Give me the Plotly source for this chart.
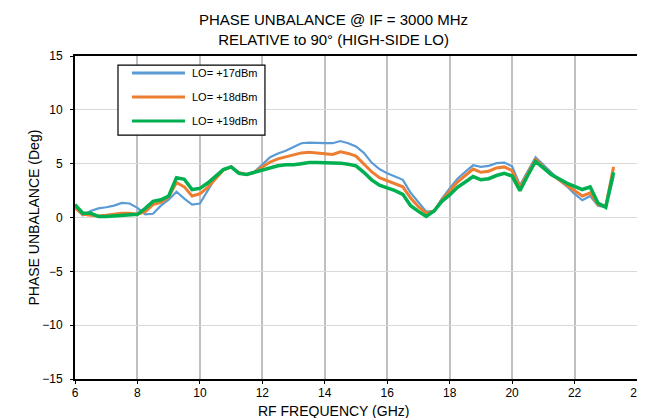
import plotly.graph_objects as go

freq = [6.0, 6.25, 6.5, 6.75, 7.0, 7.25, 7.5, 7.75, 8.0, 8.25, 8.5, 8.75, 9.0, 9.25, 9.5, 9.75,
        10.0, 10.25, 10.5, 10.75, 11.0, 11.25, 11.5, 11.75, 12.0, 12.25, 12.5, 12.75, 13.0, 13.25,
        13.5, 13.75, 14.0, 14.25, 14.5, 14.75, 15.0, 15.25, 15.5, 15.75, 16.0, 16.25, 16.5, 16.75,
        17.0, 17.25, 17.5, 17.75, 18.0, 18.25, 18.5, 18.75, 19.0, 19.25, 19.5, 19.75, 20.0, 20.25,
        20.5, 20.75, 21.0, 21.25, 21.5, 21.75, 22.0, 22.25, 22.5, 22.75, 23.0, 23.25]

lo17 = [0.9, 0.2, 0.6, 0.85, 0.95, 1.1, 1.35, 1.3, 0.9, 0.3, 0.35, 1.1, 1.65, 2.4, 1.75, 1.2,
        1.3, 2.5, 3.7, 4.45, 4.75, 4.2, 4.0, 4.25, 4.9, 5.6, 5.95, 6.2, 6.55, 6.9,
        6.95, 6.9, 6.9, 6.9, 7.1, 6.9, 6.6, 6.0, 5.1, 4.5, 4.1, 3.8, 3.5, 2.3,
        1.4, 0.55, 0.6, 1.75, 2.7, 3.6, 4.25, 4.85, 4.7, 4.8, 5.05, 5.1, 4.75, 3.0,
        4.3, 5.6, 4.9, 4.2, 3.5, 2.9, 2.2, 1.6, 2.0, 1.1, 0.95, 3.8]

lo18 = [0.9, 0.3, 0.2, 0.15, 0.2, 0.3, 0.4, 0.4, 0.3, 0.55, 1.2, 1.4, 1.9, 3.25, 2.85, 2.0,
        2.2, 2.8, 3.6, 4.4, 4.7, 4.15, 4.0, 4.2, 4.7, 5.15, 5.45, 5.65, 5.85, 6.0,
        6.05, 6.0, 5.95, 5.85, 6.1, 5.95, 5.7, 5.0, 4.25, 3.7, 3.4, 3.1, 2.85, 1.8,
        1.0, 0.38, 0.6, 1.6, 2.4, 3.3, 3.9, 4.5, 4.2, 4.3, 4.6, 4.7, 4.35, 2.8,
        4.1, 5.4, 4.7, 4.0, 3.5, 3.0, 2.5, 2.0, 2.3, 1.2, 1.05, 4.7]

lo19 = [1.2, 0.4, 0.4, 0.1, 0.1, 0.15, 0.2, 0.25, 0.3, 0.85, 1.5, 1.65, 2.0, 3.7, 3.55, 2.6,
        2.7, 3.2, 3.8, 4.45, 4.7, 4.1, 4.0, 4.2, 4.45, 4.65, 4.8, 4.9, 4.9, 5.0,
        5.1, 5.1, 5.1, 5.05, 5.05, 4.95, 4.8, 4.2, 3.5, 3.0, 2.75, 2.5, 2.15, 1.1,
        0.57, 0.1, 0.6, 1.5, 2.1, 2.8, 3.3, 3.8, 3.5, 3.6, 3.9, 4.1, 3.85, 2.5,
        3.9, 5.2, 4.6, 4.0, 3.6, 3.2, 2.9, 2.6, 2.85, 1.35, 0.95, 4.2]

series_names = ["LO= +17dBm", "LO= +18dBm", "LO= +19dBm"]
x_ticks = [6, 8, 10, 12, 14, 16, 18, 20, 22, 24]
y_ticks = [-15, -10, -5, 0, 5, 10, 15]

colors = ["#5B9BD5", "#ED7D31", "#00B050"]
widths = [2.2, 3, 3.5]

fig = go.Figure()
for i, (name, vals) in enumerate(zip(series_names, [lo17, lo18, lo19])):
    fig.add_trace(go.Scatter(x=freq, y=vals, mode="lines", name=name,
                             showlegend=False,
                             line=dict(color=colors[i], width=widths[i])))

font_family = "Liberation Sans, Arial, sans-serif"

# manual legend box (paper coordinates)
shapes = [dict(type="rect", xref="paper", yref="paper", x0=0.0765, x1=0.338,
               y0=0.755, y1=0.972, line=dict(color="black", width=1.2),
               fillcolor="white", layer="above")]
annotations = []
row_y = [0.947, 0.873, 0.799]
for i, name in enumerate(series_names):
    shapes.append(dict(type="line", xref="paper", yref="paper", x0=0.1014, x1=0.1957,
                       y0=row_y[i], y1=row_y[i], line=dict(color=colors[i], width=3),
                       layer="above"))
    annotations.append(dict(text=name, xref="paper", yref="paper", x=0.2046, y=row_y[i],
                            xanchor="left", yanchor="middle", showarrow=False,
                            font=dict(size=11, family=font_family)))

annotations += [
    dict(text="PHASE UNBALANCE @ IF = 3000 MHz<br>RELATIVE to 90° (HIGH-SIDE LO)",
         xref="paper", yref="paper", x=0.46, y=1.0, yshift=6,
         xanchor="center", yanchor="bottom", showarrow=False,
         font=dict(size=15, family=font_family)),
    dict(text="RF FREQUENCY (GHz)", xref="paper", yref="paper",
         x=0.46, y=0, yshift=-22, xanchor="center", yanchor="top",
         showarrow=False, font=dict(size=14, family=font_family)),
    dict(text="PHASE UNBALANCE (Deg)", xref="paper", yref="paper",
         x=0, xshift=-42, y=0.5, xanchor="center", yanchor="middle",
         textangle=-90, showarrow=False, font=dict(size=14, family=font_family)),
]

fig.update_layout(
    width=637, height=410,
    margin=dict(l=67, r=8, t=48, b=39),
    paper_bgcolor="white", plot_bgcolor="white",
    font=dict(family=font_family, color="black", size=12),
    showlegend=False,
    xaxis=dict(range=[6, 24], tickvals=x_ticks, showgrid=True,
               gridcolor="#c0c0c0", gridwidth=2, zeroline=False,
               showline=True, linecolor="black", linewidth=2, mirror=True,
               ticks="outside", ticklen=3, tickcolor="black", tickwidth=1,
               ticklabelstandoff=-1,
               tickfont=dict(size=12), automargin=False),
    yaxis=dict(range=[-15, 15], tickvals=y_ticks, showgrid=True,
               gridcolor="#d9d9d9", gridwidth=1, zeroline=False,
               showline=True, linecolor="black", linewidth=2, mirror=True,
               ticks="outside", ticklen=3, tickcolor="black", tickwidth=1,
               ticklabelstandoff=5,
               tickfont=dict(size=12), automargin=False),
    shapes=shapes,
    annotations=annotations,
)

fig.write_html("out.html")
